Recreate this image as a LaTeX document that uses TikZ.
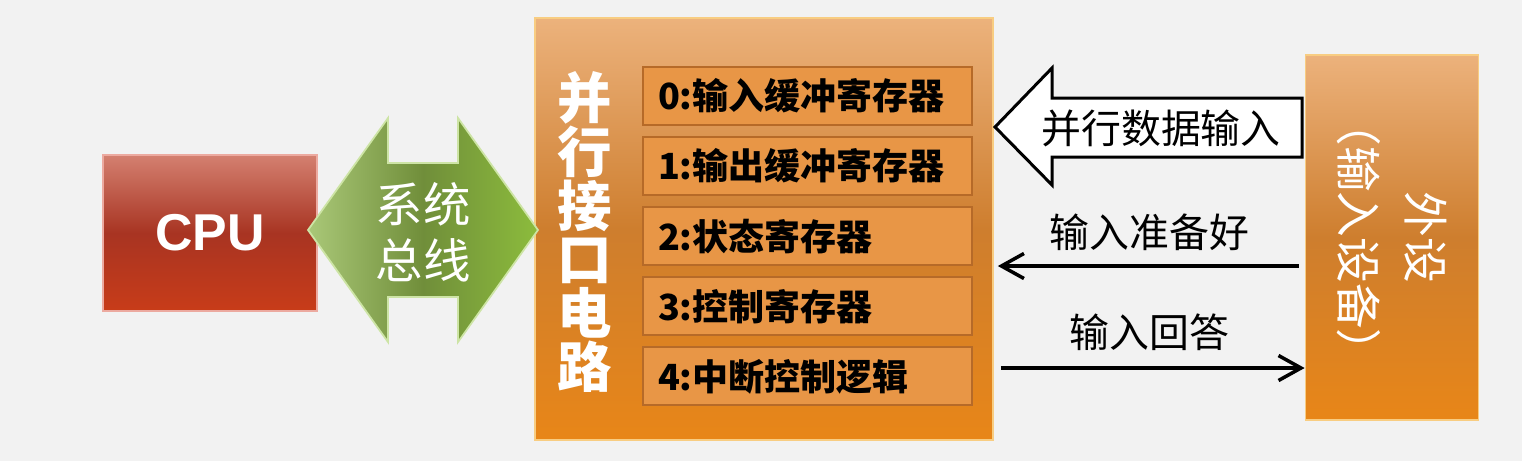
\documentclass[tikz,border=0pt]{standalone}
\usepackage{fontspec}
\setmainfont{Noto Sans CJK SC}
\newfontfamily\latinsf{Liberation Sans}
\usetikzlibrary{positioning,arrows.meta}

\definecolor{bgGray}{RGB}{242,242,242}
\definecolor{cpuTop}{RGB}{212,128,112}
\definecolor{cpuMid}{RGB}{168,52,34}
\definecolor{cpuBot}{RGB}{200,60,25}
\definecolor{cpuEdge}{RGB}{236,170,160}
\definecolor{busLeft}{RGB}{170,200,120}
\definecolor{busMid}{RGB}{112,142,58}
\definecolor{busRight}{RGB}{140,188,60}
\definecolor{busEdge}{RGB}{205,228,165}
\definecolor{orTop}{RGB}{236,178,124}
\definecolor{orMid}{RGB}{206,126,46}
\definecolor{orBot}{RGB}{232,134,24}
\definecolor{orEdge}{RGB}{248,205,130}
\definecolor{regFill}{RGB}{232,150,70}
\definecolor{regEdge}{RGB}{182,106,40}

\begin{document}
\begin{tikzpicture}[
  x=0.02cm,y=-0.02cm,
  orbox/.style={draw=orEdge,line width=1pt,top color=orTop,bottom color=orBot,middle color=orMid},
  cpubox/.style={draw=cpuEdge,line width=1pt,top color=cpuTop,bottom color=cpuBot,middle color=cpuMid,
    minimum width=4.28cm,minimum height=3.12cm,inner sep=0pt,text=white,
    font=\latinsf\bfseries\fontsize{29.5}{30}\selectfont},
  piubox/.style={orbox,minimum width=9.16cm,minimum height=8.44cm,inner sep=0pt},
  peribox/.style={orbox,minimum width=3.46cm,minimum height=7.30cm,inner sep=0pt},
  regbox/.style={draw=regEdge,fill=regFill,line width=1.2pt,minimum height=1.16cm,
    text width=5.98cm,inner xsep=0.3cm,inner ysep=0pt,align=left,
    font=\bfseries\fontsize{20.5}{22}\selectfont},
  wlbl/.style={text=white,align=center,inner sep=0pt},
  lbl/.style={inner sep=0pt,font=\fontsize{22.7}{24}\selectfont},
  sig/.style={-{Straight Barb[length=4.5mm,width=5mm]},line width=2pt},
]
\useasboundingbox (0,0) rectangle (1522,461);
\fill[bgGray] (0,0) rectangle (1522,461);

% main blocks
\node[cpubox] (cpu) at (210,233) {CPU};
\node[piubox] (piu) at (764,229) {};
\node[peribox] (peri) at (1392,237.5) {};

% system bus
\shadedraw[left color=busLeft,right color=busRight,middle color=busMid,draw=busEdge,line width=1pt,line join=miter]
  (308,230) -- (388,118) -- (388,163) -- (458,163) -- (458,118) -- (538,230)
  -- (458,342) -- (458,297) -- (388,297) -- (388,342) -- cycle;
\node[wlbl,font=\fontsize{27}{32}\selectfont] (buslbl) at (423,232) {系统\\总线};

% interface circuit
\node[wlbl,font=\bfseries\fontsize{31}{30.6}\selectfont] (piulbl) at (585,232) {并\\行\\接\\口\\电\\路};
\node[regbox] (reg0) at (807.5,96) {0:输入缓冲寄存器};
\node[regbox,below=0.2cm of reg0] (reg1) {1:输出缓冲寄存器};
\node[regbox,below=0.2cm of reg1] (reg2) {2:状态寄存器};
\node[regbox,below=0.2cm of reg2] (reg3) {3:控制寄存器};
\node[regbox,below=0.2cm of reg3] (reg4) {4:中断控制逻辑};

% peripheral
\node[wlbl,rotate=-90,font=\fontsize{26}{38.5}\selectfont] (perilbl) at (peri.center) {外设\\（输入设备）};

% parallel data
\filldraw[fill=white,draw=black,line width=1.7pt,line join=miter]
  (995,127) -- (1052,68) -- (1052,98) -- (1302,98) -- (1302,157) -- (1052,157) -- (1052,185) -- cycle;
\node[lbl] (datalbl) at (1161,128) {并行数据输入};

% handshake lines
\coordinate (yrdy) at (0,266);
\coordinate (yack) at (0,368);
\draw[sig,shorten <=1.2mm,shorten >=0.8mm] (peri.west |- yrdy) -- (piu.east |- yrdy)
  node[lbl,midway,above=2.8mm] (rdylbl) {输入准备好};
\draw[sig,shorten <=1.4mm] (piu.east |- yack) -- (peri.west |- yack)
  node[lbl,midway,above=3.2mm] (acklbl) {输入回答};
\end{tikzpicture}
\end{document}
